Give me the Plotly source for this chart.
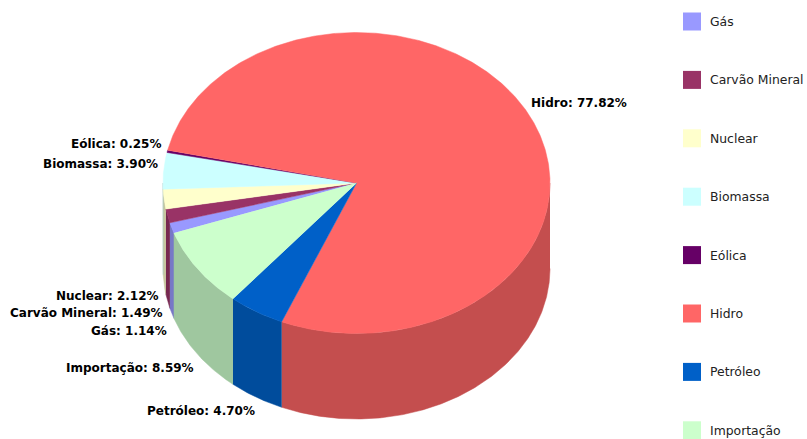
import numpy as np
import plotly.graph_objects as go

# Brazilian electricity supply by source, in percent
sources = ["Gás", "Carvão Mineral", "Nuclear", "Biomassa", "Eólica", "Hidro", "Petróleo", "Importação"]
shares = [1.14, 1.49, 2.12, 3.90, 0.25, 77.82, 4.70, 8.59]
top_colors = ["#9999FF", "#993366", "#FFFFCC", "#CCFFFF", "#660066", "#FF6666", "#0060C8", "#CCFFCC"]
wall_colors = ["#7777C7", "#772850", "#C7C79F", "#9FC7C7", "#4F004F", "#C44E4E", "#004C9C", "#9FC79F"]

# Pie geometry in page pixels
WIDTH, HEIGHT = 807, 439
CX, CY, RX, RY = 356.5, 183, 193.5, 150.5
DEPTH = 85.5
START_DEG = 340.56  # clockwise, measured from the left-hand horizontal

# Text anchors: (x, y, horizontal anchor) for each slice label
label_anchors = {
    "Gás": (167, 331, "right"),
    "Carvão Mineral": (163, 313, "right"),
    "Nuclear": (159, 296, "right"),
    "Biomassa": (158, 164, "right"),
    "Eólica": (162, 144, "right"),
    "Hidro": (531, 103, "left"),
    "Petróleo": (255, 411, "right"),
    "Importação": (194, 368, "right"),
}

LEGEND_TOP, LEGEND_STEP = 21.5, 58.4
LEGEND_MARK_X, LEGEND_TEXT_X = 692, 710


def arc(a_deg, b_deg, dy=0.0):
    n = max(int(abs(b_deg - a_deg) * 2), 2)
    t = np.radians(np.linspace(a_deg, b_deg, n))
    return CX - RX * np.cos(t), CY - RY * np.sin(t) + dy


fig = go.Figure()

edges = START_DEG + np.concatenate([[0], np.cumsum(shares)]) * 3.6

# Side wall: only the arc facing the viewer (the lower half of the ellipse)
for i, name in enumerate(sources):
    a, b = edges[i], edges[i + 1]
    for lo, hi in ((180, 360), (540, 720)):
        s, e = max(a, lo), min(b, hi)
        if e <= s:
            continue
        x1, y1 = arc(s, e)
        x2, y2 = arc(e, s, DEPTH)
        fig.add_trace(go.Scatter(
            x=np.concatenate([x1, x2]), y=np.concatenate([y1, y2]),
            mode="lines", fill="toself", fillcolor=wall_colors[i],
            line=dict(color=wall_colors[i], width=0.5), hoverinfo="skip",
        ))

# Top face of the pie
for i, name in enumerate(sources):
    x1, y1 = arc(edges[i], edges[i + 1])
    fig.add_trace(go.Scatter(
        x=np.concatenate([[CX], x1]), y=np.concatenate([[CY], y1]),
        mode="lines", fill="toself", fillcolor=top_colors[i],
        line=dict(color=top_colors[i], width=0.5), name=name,
        hovertemplate=f"{name}: {shares[i]:.2f}%<extra></extra>",
    ))

# Hand-placed legend column with wide spacing
legend_y = [LEGEND_TOP + LEGEND_STEP * k for k in range(len(sources))]
fig.add_trace(go.Scatter(
    x=[LEGEND_MARK_X] * len(sources), y=legend_y, mode="markers",
    marker=dict(symbol="square", size=18, color=top_colors, line=dict(width=0)),
    hoverinfo="skip",
))
for name, y in zip(sources, legend_y):
    fig.add_annotation(x=LEGEND_TEXT_X, y=y, text=name, showarrow=False, xanchor="left",
                       font=dict(family="DejaVu Sans", size=12.4, color="#222222"), xshift=-2)

for name, value in zip(sources, shares):
    x, y, anchor = label_anchors[name]
    fig.add_annotation(x=x, y=y, text=f"<b>{name}: {value:.2f}%</b>", showarrow=False,
                       xanchor=anchor, font=dict(family="DejaVu Sans", size=12, color="#000000"),
                       xshift=2 if anchor == "right" else -2)

fig.update_layout(
    width=WIDTH, height=HEIGHT, margin=dict(l=0, r=0, t=0, b=0),
    paper_bgcolor="white", plot_bgcolor="white", showlegend=False,
    xaxis=dict(range=[0, WIDTH], visible=False, fixedrange=True),
    yaxis=dict(range=[HEIGHT, 0], visible=False, fixedrange=True),
)
fig.write_html("out.html", config={"displayModeBar": False})
